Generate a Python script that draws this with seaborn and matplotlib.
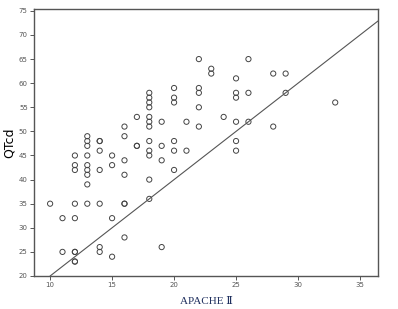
import matplotlib
matplotlib.use("Agg")
import matplotlib.pyplot as plt
import seaborn as sns
import pandas as pd

# APACHE II scores and QTcd values
apache = [10,
          11, 11,
          12, 12, 12, 12, 12, 12, 12, 12, 12,
          13, 13, 13, 13, 13, 13, 13, 13, 13,
          14, 14, 14, 14, 14, 14, 14,
          15, 15, 15, 15,
          16, 16, 16, 16, 16, 16, 16,
          17, 17, 17,
          18, 18, 18, 18, 18, 18, 18, 18, 18, 18, 18, 18,
          19, 19, 19, 19,
          20, 20, 20, 20, 20, 20,
          21, 21,
          22, 22, 22, 22, 22,
          23, 23,
          24,
          25, 25, 25, 25, 25, 25,
          26, 26, 26,
          28, 28,
          29, 29,
          33]
qtcd = [35,
        32, 25,
        45, 43, 42, 35, 32, 25, 25, 23, 23,
        49, 48, 47, 45, 43, 42, 41, 39, 35,
        48, 48, 46, 42, 35, 26, 25,
        45, 43, 32, 24,
        51, 49, 44, 41, 35, 35, 28,
        53, 47, 47,
        58, 57, 56, 55, 53, 52, 51, 48, 46, 45, 40, 36,
        52, 47, 44, 26,
        59, 57, 56, 48, 46, 42,
        52, 46,
        65, 59, 58, 55, 51,
        63, 62,
        53,
        61, 58, 57, 52, 48, 46,
        65, 58, 52,
        62, 51,
        62, 58,
        56]

fit_intercept = 0.0
fit_slope = 2.0

x_ticks = [10, 15, 20, 25, 30, 35]
y_ticks = [20, 25, 30, 35, 40, 45, 50, 55, 60, 65, 70, 75]

df = pd.DataFrame({"APACHE": apache, "QTcd": qtcd})

sns.set_style("ticks")
fig = plt.figure(figsize=(3.98, 3.09), dpi=100)
ax = fig.add_axes([0.0854, 0.1068, 0.8643, 0.8642])

sns.scatterplot(data=df, x="APACHE", y="QTcd", ax=ax, marker="o",
                s=14, facecolor="none", edgecolor="#444444", linewidth=0.7)
ax.axline((0, fit_intercept), slope=fit_slope, color="#555555", lw=0.8)

ax.set_xlim(8.7, 36.45)
ax.set_ylim(20, 75.4)
ax.set_xticks(x_ticks)
ax.set_yticks(y_ticks)
ax.tick_params(axis="both", labelsize=5, colors="#555555", length=3,
               width=0.7, pad=1.5)
for s in ax.spines.values():
    s.set_visible(True)
    s.set_color("#555555")
    s.set_linewidth(1.0)

ax.set_ylabel("QTcd", fontsize=9, color="black", labelpad=2)
ax.set_xlabel("APACHE Ⅱ", fontsize=8,
              family=["Liberation Serif", "DejaVu Serif"],
              color="#1f2f5e", labelpad=6)

fig.savefig("out.png", dpi=100)
